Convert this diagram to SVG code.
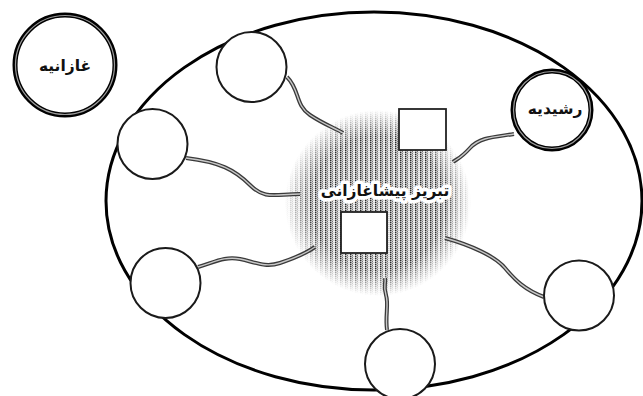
<svg xmlns="http://www.w3.org/2000/svg" width="643" height="396" viewBox="0 0 643 396">
<style>
.node{fill:#fff;stroke:#1a1a1a;stroke-width:2}
.main{fill:#fff;stroke:#000;stroke-width:5}
.inner{fill:none;stroke:#9a9a9a;stroke-width:1.2}
.cab{fill:none;stroke:#3a3a3a;stroke-width:4;stroke-linecap:butt}
.cabi{fill:none;stroke:#c8c8c8;stroke-width:1.4}
.lbl{font-family:"DejaVu Sans",sans-serif;font-weight:bold;fill:#111;text-anchor:middle}
.box{fill:#fff;stroke:#222;stroke-width:1.8}
</style>
<defs>
<pattern id="hatch" width="5" height="2" patternUnits="userSpaceOnUse">
<rect x="0" y="0" width="5" height="2" fill="#f2f2f2"/>
<rect x="0" y="0" width="1.5" height="1.4" fill="#2a2a2a"/>
<rect x="2" y="0.6" width="1" height="1.4" fill="#777"/>
<rect x="3.5" y="0" width="0.8" height="1" fill="#aaa"/>
</pattern>
<radialGradient id="fade" cx="0.5" cy="0.5" r="0.5">
<stop offset="0.72" stop-color="#fff" stop-opacity="1"/>
<stop offset="1" stop-color="#fff" stop-opacity="0"/>
</radialGradient>
<mask id="m">
<circle cx="378" cy="203" r="93" fill="url(#fade)"/>
</mask>
</defs>
<rect width="643" height="396" fill="#fff"/>
<g id="region">
<ellipse cx="374" cy="201" rx="268" ry="189" fill="none" stroke="#000" stroke-width="3"/>
</g>
<g id="center">
<circle cx="378" cy="203" r="93" fill="url(#hatch)" mask="url(#m)"/>
</g>
<g id="connectors">
<path class="cab" d="M287,77 C300,90 295,105 310,115 S335,128 343,133"/>
<path class="cabi" d="M287,77 C300,90 295,105 310,115 S335,128 343,133"/>
<path class="cab" d="M186,158 C220,162 235,170 250,185 S275,194 300,194"/>
<path class="cabi" d="M186,158 C220,162 235,170 250,185 S275,194 300,194"/>
<path class="cab" d="M198,267 C215,262 225,256 240,259 S265,268 280,263 S305,254 315,247"/>
<path class="cabi" d="M198,267 C215,262 225,256 240,259 S265,268 280,263 S305,254 315,247"/>
<path class="cab" d="M387,330 C385,315 389,305 386,295 S386,285 385,278"/>
<path class="cabi" d="M387,330 C385,315 389,305 386,295 S386,285 385,278"/>
<path class="cab" d="M544,297 C525,290 515,280 505,268 S470,245 445,238"/>
<path class="cabi" d="M544,297 C525,290 515,280 505,268 S470,245 445,238"/>
<path class="cab" d="M514,134 C495,137 480,137 470,148 S458,158 453,162"/>
<path class="cabi" d="M514,134 C495,137 480,137 470,148 S458,158 453,162"/>
</g>
<g id="center-label">
<text class="lbl" x="385" y="196" font-size="15.5" stroke="#fff" stroke-width="7" stroke-linejoin="round" paint-order="stroke">تبریز پیشاغازانی</text>
</g>
<g id="box1"><rect class="box" x="399" y="109" width="47" height="41"/></g>
<g id="box2"><rect class="box" x="341" y="212" width="46" height="41"/></g>
<g id="ghazaniyeh">
<circle class="main" cx="65" cy="65" r="50"/>
<circle class="inner" cx="65" cy="65" r="49.5"/>
<text class="lbl" x="65" y="71" font-size="15.5">غازانیه</text>
</g>
<g id="rashidiyeh">
<circle class="main" cx="552" cy="110" r="39"/>
<circle class="inner" cx="552" cy="110" r="38.5"/>
<text class="lbl" x="555" y="114" font-size="15.5">رشیدیه</text>
</g>
<g id="n-top"><circle class="node" cx="251.5" cy="67" r="35"/></g>
<g id="n-left-upper"><circle class="node" cx="152.5" cy="144" r="35"/></g>
<g id="n-left-lower"><circle class="node" cx="165.5" cy="283" r="35"/></g>
<g id="n-bottom"><circle class="node" cx="400" cy="364" r="35"/></g>
<g id="n-right"><circle class="node" cx="579" cy="295.5" r="35"/></g>
</svg>
